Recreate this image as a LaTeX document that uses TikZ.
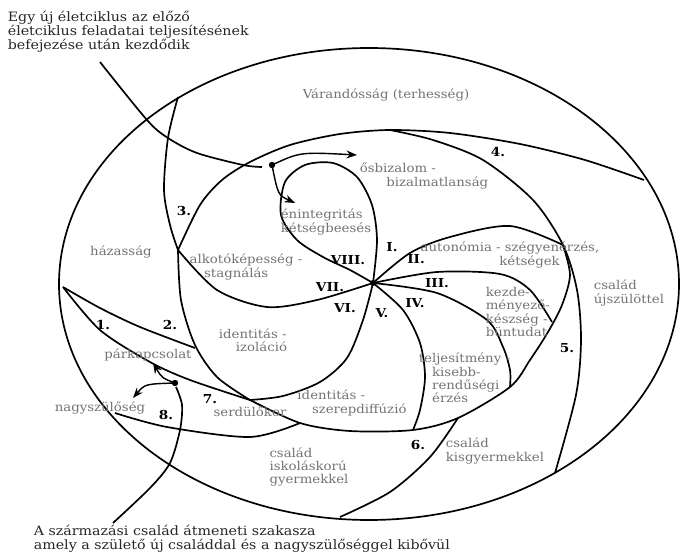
\documentclass[tikz,border=0pt]{standalone}
\usepackage{fontspec}
\setmainfont{DejaVu Serif}[FakeStretch=1.1]
\usetikzlibrary{arrows.meta}

\begin{document}
\begin{tikzpicture}[x=0.025cm,y=-0.025cm,line width=1.2pt,>=Stealth,
  cimke/.style={text=black!55,font=\fontsize{8.6}{9.4}\selectfont,inner sep=0pt,align=left},
  felirat/.style={text=black!85,font=\fontsize{9.2}{10}\selectfont,inner sep=0pt,align=left},
  szam/.style={font=\fontsize{8.8}{10}\selectfont\bfseries,inner sep=0pt}]
\useasboundingbox (0,0) rectangle (680,558);
% külső ellipszis (családi életciklus)
\draw (369,284) ellipse [x radius=310, y radius=236];
% a családi szakaszok határai
\draw plot[smooth] coordinates {(178,97) (168,138) (164,190) (170,225) (178,250)};
\draw plot[smooth] coordinates {(178,250) (200,205) (222,180) (250,162) (290,145) (340,134) (390,130) (450,133) (520,144) (585,160) (644,180)};
\draw plot[smooth] coordinates {(390,130) (433,140) (483,160) (533,200) (563,245) (577,290) (581,340) (576,395) (555,473)};
\draw plot[smooth] coordinates {(563,245) (570,275) (562,305) (548,332) (530,360) (510,387) (458,418) (413,430) (350,431) (300,423) (250,400)};
\draw plot[smooth] coordinates {(178,250) (181,300) (195,345) (217,377) (250,400)};
\draw plot[smooth] coordinates {(63,287) (100,330) (150,362) (190,380) (250,400)};
\draw plot[smooth] coordinates {(63,287) (100,308) (140,327) (195,348)};
\draw plot[smooth] coordinates {(115,413) (167,427) (250,437) (300,423)};
\draw plot[smooth] coordinates {(458,418) (430,457) (390,492) (340,517)};
% egyéni életciklus: szakaszhatárok a középpontból
\coordinate (kozep) at (373,283);
\draw plot[smooth] coordinates {(373,283) (377,240) (372,205) (357,177) (333,163) (305,165) (285,182) (281,215) (297,240) (323,257) (350,270) (373,283)};
\draw plot[smooth] coordinates {(178,250) (217,290) (267,307) (317,300) (373,283)};
\draw plot[smooth] coordinates {(373,283) (363,320) (347,358) (320,382) (283,396) (250,400)};
\draw plot[smooth] coordinates {(373,283) (403,310) (420,343) (425,377) (420,410) (413,430)};
\draw plot[smooth] coordinates {(373,283) (437,293) (487,320) (503,347) (510,370) (510,387)};
\draw plot[smooth] coordinates {(373,283) (437,272) (500,274) (530,290) (552,322)};
\draw plot[smooth] coordinates {(373,283) (410,253) (450,237) (510,226) (563,245)};
\fill (kozep) circle (3);
% nyilak
\coordinate (pont1) at (272,165);
\coordinate (pont2) at (175,383);
\fill (pont1) circle (3.2);
\fill (pont2) circle (3.2);
\draw plot[smooth] coordinates {(100,62) (147,120) (168,138) (197,153) (243,165) (262,167)};
\draw[->,line width=1pt] (pont1) .. controls (300,152) .. (357,155);
\draw[->,line width=1pt] (pont1) .. controls (278,195) .. (295,203);
\draw plot[smooth] coordinates {(113,523) (150,488) (170,463) (180,430) (182,405) (176,387)};
\draw[->,line width=1pt] (pont2) .. controls (162,378) .. (153,363);
\draw[->,line width=1pt] (pont2) .. controls (145,384) .. (133,398);
% feliratok
\node[felirat,anchor=north west] (ujciklus) at (7,10) {Egy új életciklus az előző\\életciklus feladatai teljesítésének\\befejezése után kezdődik};
\node[felirat,anchor=north west] (atmenet) at (33,524) {A származási család átmeneti szakasza\\amely a születő új családdal és a nagyszülőséggel kibővül};
\node[cimke] (varandos) at (386,95) {Várandósság (terhesség)};
\node[cimke] (bizalom) at (424,176) {ősbizalom -\\\hspace*{2.2em}bizalmatlanság};
\node[cimke] (integ) at (326,222) {énintegritás\\kétségbeesés};
\node[cimke] (alkoto) at (246,267) {alkotóképesség -\\\hspace*{1.2em}stagnálás};
\node[cimke] (hazas) at (121,252) {házasság};
\node[cimke] (autonom) at (510,255) {autonómia - szégyenérzés,\\\hspace*{6.5em}kétségek};
\node[cimke,anchor=west] (kezdem) at (485,312) {kezde-\\ményező-\\készség -\\büntudat};
\node[cimke,anchor=west] (teljes) at (418,378) {teljesítmény -\\\hspace*{1.1em}kisebb-\\\hspace*{1.1em}rendűségi\\\hspace*{1.1em}érzés};
\node[cimke] (ujszul) at (629,293) {család\\újszülöttel};
\node[cimke] (kisgy) at (495,451) {család\\kisgyermekkel};
\node[cimke] (iskolas) at (309,467) {család\\iskoláskorú\\gyermekkel};
\node[cimke] (szerep) at (352,403) {identitás -\\\hspace*{1.2em}szerepdiffúzió};
\node[cimke] (izolac) at (253,340) {identitás -\\\hspace*{1.4em}izoláció};
\node[cimke] (serdul) at (250,412) {serdülőkor};
\node[cimke] (nagysz) at (100,408) {nagyszülőség};
\node[cimke] (parkap) at (148,355) {párkapcsolat};
% sorszámok
\node[szam] (sz1) at (103,325) {1.};
\node[szam] (sz2) at (170,325) {2.};
\node[szam] (sz3) at (184,211) {3.};
\node[szam] (sz4) at (498,152) {4.};
\node[szam] (sz5) at (567,348) {5.};
\node[szam] (sz6) at (418,445) {6.};
\node[szam] (sz7) at (210,399) {7.};
\node[szam] (sz8) at (166,415) {8.};
\node[szam] (r1) at (392,247) {I.};
\node[szam] (r2) at (416,259) {II.};
\node[szam] (r3) at (437,283) {III.};
\node[szam] (r4) at (415,303) {IV.};
\node[szam] (r5) at (382,313) {V.};
\node[szam] (r6) at (345,308) {VI.};
\node[szam] (r7) at (330,287) {VII.};
\node[szam] (r8) at (348,260) {VIII.};
\end{tikzpicture}
\end{document}
